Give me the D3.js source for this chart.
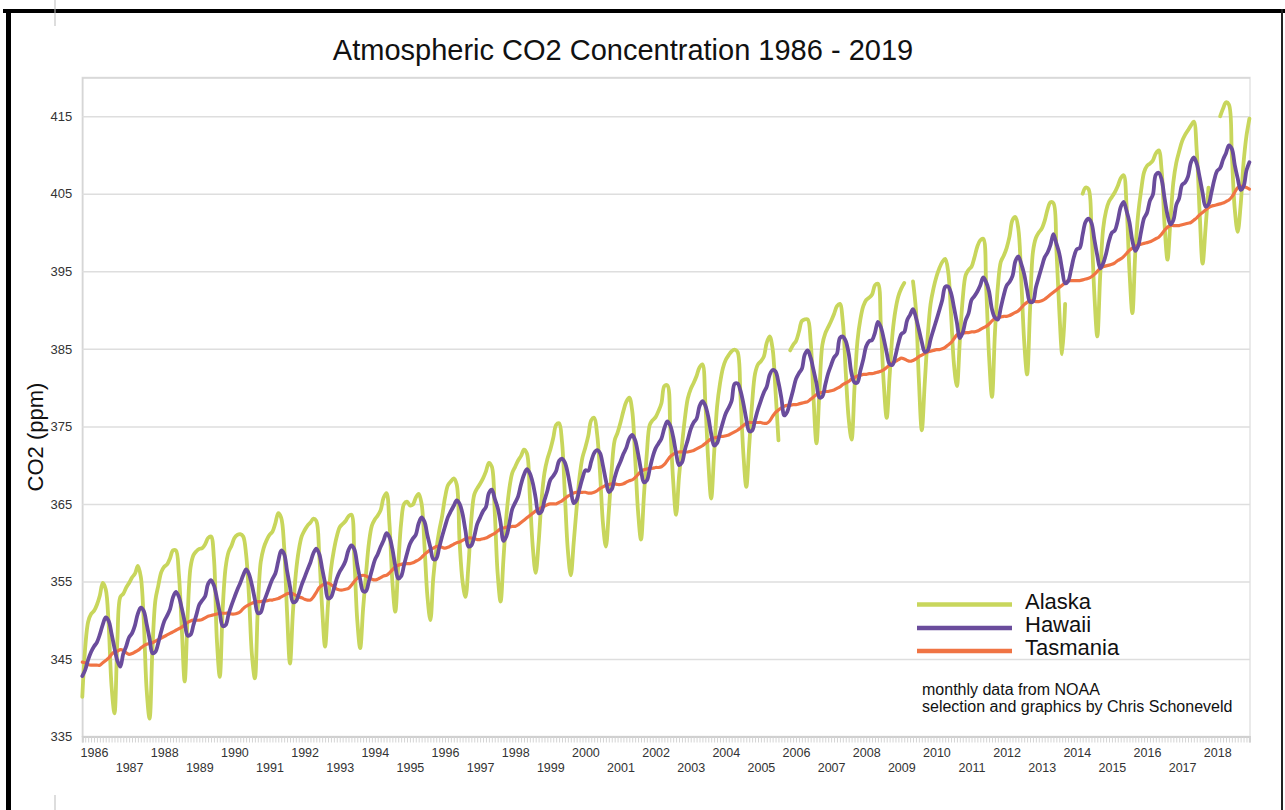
<!DOCTYPE html>
<html>
<head>
<meta charset="utf-8">
<script src="https://cdn.jsdelivr.net/npm/d3@7"></script>
<style>
  body { margin: 0; background: #fff; }
  svg { display: block; font-family: "Liberation Sans", Arial, sans-serif; }
</style>
</head>
<body>
<svg id="chart" width="1285" height="810"></svg>
<script>
// Monthly values, September 1985 (index 0) to December 2018 (index 399). null = missing month.
const firstMonthLabel = "1985-09";

const alaska = [
  340.1, 346.5, 349.8, 350.8,
  351.2, 352.0, 353.2, 354.8, 354.0, 349.5, 341.5, 338.0, 347.5, 353.0, 353.4, 354.2,
  354.8, 355.5, 356.0, 357.0, 355.6, 350.0, 341.0, 337.3, 346.5, 352.6, 354.5, 356.2,
  356.9, 357.2, 358.0, 359.0, 359.0, 356.0, 349.0, 342.1, 350.5, 356.8, 358.4, 358.9,
  359.2, 359.3, 359.8, 360.6, 360.8, 358.0, 347.5, 342.7, 351.5, 356.8, 358.8, 359.6,
  360.6, 361.0, 361.1, 360.8, 358.5, 353.0, 345.5, 342.5, 351.5, 357.5, 359.3, 360.3,
  361.0, 361.4, 362.5, 363.8, 363.2, 359.5, 351.0, 344.4, 351.0, 356.0, 359.0, 360.8,
  361.6, 362.2, 362.6, 363.1, 362.8, 358.5, 351.5, 346.6, 352.0, 356.5, 359.0, 360.8,
  362.0, 362.4, 362.8, 363.4, 363.6, 358.0, 350.0, 346.4, 351.5, 356.0, 360.0, 362.2,
  363.0, 363.5, 364.2, 365.8, 366.4, 362.5, 355.0, 351.1, 357.0, 362.5, 365.0, 365.3,
  364.8, 364.9, 365.8, 366.3, 365.0, 359.5, 353.0, 350.0, 355.5, 359.0, 361.5, 363.4,
  365.8, 367.4, 367.9, 368.3, 367.5, 360.0, 355.0, 353.0, 357.0, 363.0, 366.2, 367.0,
  367.6, 368.3, 369.2, 370.3, 369.8, 364.0, 356.0, 352.4, 358.0, 363.5, 367.0, 369.0,
  369.8, 370.6, 371.2, 372.0, 371.5, 366.0, 359.5, 356.1, 360.0, 365.5, 369.0, 370.8,
  372.0, 373.5, 375.2, 375.4, 373.0, 366.0, 359.0, 355.8, 360.0, 364.5, 368.5, 371.0,
  372.3, 373.8, 375.8, 376.1, 374.0, 369.0, 362.5, 359.5, 364.0, 369.5, 373.2, 374.2,
  375.5, 377.0, 378.2, 378.7, 377.0, 371.0, 364.0, 360.4, 366.0, 371.5, 375.2, 375.8,
  376.2, 377.0, 378.0, 380.2, 380.3, 375.0, 368.0, 363.6, 368.5, 372.5, 376.0, 378.6,
  379.8, 380.6, 381.5, 382.6, 383.0, 378.0, 370.5, 365.7, 371.5, 377.5, 380.5, 382.5,
  383.6, 384.2, 384.7, 384.9, 384.6, 379.0, 371.5, 367.2, 372.5, 378.0, 381.8, 383.0,
  383.4, 384.0, 385.8, 386.6, 385.0, 379.5, 373.2, null, null, null, 384.8, 385.5,
  386.0, 387.2, 388.6, 388.8, 388.8, 386.0, 378.5, 372.8, 379.5, 385.5, 387.0, 387.8,
  388.6, 389.5, 390.5, 390.8, 388.5, 382.0, 376.0, 373.3, 380.0, 386.0, 388.8, 390.5,
  391.3, 391.6, 392.0, 393.2, 393.4, 388.0, 380.5, 376.1, 381.5, 387.0, 390.0, 391.8,
  392.8, 393.5, null, null, 393.7, 390.0, 381.0, 374.5, 380.5, 386.5, 390.8, 392.8,
  394.3, 395.4, 396.2, 396.6, 395.0, 389.5, 383.0, 380.2, 386.0, 391.5, 394.5, 395.2,
  395.6, 396.8, 398.2, 399.0, 399.2, 393.0, 384.0, 378.8, 387.0, 393.0, 396.2, 397.0,
  398.0, 399.5, 401.6, 402.0, 400.5, 394.0, 386.0, 381.7, 390.0, 397.5, 399.3, 400.0,
  400.5, 401.5, 403.0, 403.9, 403.8, 398.0, 390.0, 384.3, 390.8, null, null, null,
  null, null, 405.0, 405.8, 405.6, 400.5, 392.0, 386.6, 394.5, 400.5, 402.8, 404.0,
  404.6, 405.2, 406.0, 407.0, 407.4, 403.5, 395.0, 389.6, 397.5, 402.5, 405.5, 407.8,
  408.6, 408.9, 409.3, 410.2, 410.6, 408.0, 401.0, 396.5, 401.5, 406.5, 409.0, 410.5,
  411.8, 412.6, 413.2, 413.8, 414.3, 410.5, 402.5, 396.0, 400.5, 405.8, null, null,
  null, 415.0, 416.0, 416.8, 416.5, 410.0, 403.0, 400.1, 403.5, 409.0, 412.5, 414.7
];

const hawaii = [
  342.8, 343.6, 344.9, 345.9,
  346.60, 347.15, 348.16, 349.44, 350.35, 349.92, 348.26, 346.40, 344.77, 344.00, 345.67, 346.63,
  347.80, 348.32, 349.34, 350.86, 351.62, 351.20, 349.49, 347.60, 345.73, 345.92, 347.11, 348.57,
  349.85, 350.59, 351.44, 352.95, 353.66, 353.04, 351.56, 349.80, 348.01, 348.13, 349.39, 350.69,
  352.01, 352.55, 353.09, 354.68, 355.17, 354.49, 352.85, 350.98, 349.24, 349.38, 350.76, 351.91,
  352.95, 353.94, 354.81, 355.79, 356.55, 355.94, 354.51, 352.66, 350.92, 351.02, 352.29, 353.30,
  354.35, 355.31, 356.02, 357.64, 358.99, 358.54, 356.37, 354.33, 352.33, 352.43, 353.37, 354.56,
  355.53, 356.52, 357.47, 358.63, 359.24, 358.56, 356.67, 354.75, 352.82, 352.96, 354.05, 355.37,
  356.28, 356.87, 357.67, 359.04, 359.64, 359.15, 357.17, 355.26, 353.73, 353.77, 355.06, 356.43,
  357.75, 358.52, 359.46, 360.29, 361.22, 360.71, 359.19, 357.01, 355.38, 355.68, 357.13, 358.57,
  359.82, 360.52, 361.00, 362.51, 363.26, 362.69, 360.92, 359.39, 357.87, 357.93, 359.33, 360.79,
  362.09, 363.29, 364.06, 364.76, 365.45, 365.01, 363.70, 361.54, 359.51, 359.65, 360.80, 362.38,
  363.23, 364.06, 364.61, 366.40, 366.84, 365.68, 364.52, 362.57, 360.24, 360.83, 362.49, 364.34,
  365.16, 365.97, 367.53, 368.75, 369.49, 368.94, 367.71, 365.76, 363.79, 364.02, 365.46, 366.71,
  368.11, 368.60, 369.26, 370.56, 370.85, 370.32, 368.88, 366.87, 365.10, 365.50, 366.95, 368.32,
  369.34, 369.29, 370.48, 371.58, 371.95, 371.55, 369.95, 368.02, 366.54, 366.88, 368.37, 369.60,
  370.47, 371.46, 372.26, 373.43, 373.90, 373.21, 371.49, 369.40, 367.78, 368.02, 369.52, 371.06,
  372.16, 372.80, 373.45, 374.79, 375.65, 375.11, 373.66, 371.57, 370.00, 370.33, 371.96, 373.26,
  374.66, 375.51, 375.99, 377.59, 378.27, 377.67, 376.24, 374.04, 372.54, 372.84, 374.16, 375.52,
  376.70, 377.42, 378.31, 380.48, 380.54, 379.62, 377.97, 375.95, 374.39, 374.45, 375.86, 377.21,
  378.33, 379.38, 380.14, 381.66, 382.27, 382.08, 380.66, 378.66, 376.41, 376.88, 378.24, 379.66,
  381.12, 381.86, 382.42, 384.27, 384.79, 383.86, 382.25, 380.55, 378.72, 378.87, 380.37, 381.85,
  382.91, 383.89, 384.38, 386.40, 386.58, 386.00, 384.42, 381.79, 380.67, 380.66, 382.19, 383.64,
  385.34, 385.99, 386.12, 387.10, 388.48, 387.80, 386.29, 384.50, 383.02, 382.95, 384.12, 385.71,
  386.90, 387.17, 388.69, 389.39, 390.11, 389.05, 387.50, 385.88, 384.63, 384.80, 386.22, 387.48,
  388.71, 389.98, 391.31, 392.98, 393.02, 392.18, 390.35, 388.39, 386.37, 387.10, 388.69, 389.59,
  391.31, 391.81, 392.40, 393.20, 394.21, 393.61, 392.39, 390.09, 389.03, 388.79, 390.29, 391.87,
  393.15, 393.63, 394.37, 396.30, 396.94, 395.97, 394.63, 392.61, 391.05, 391.10, 392.91, 394.25,
  395.56, 396.80, 397.43, 398.41, 399.78, 398.60, 397.32, 395.20, 393.45, 393.70, 395.16, 396.84,
  397.85, 398.01, 399.77, 401.38, 401.78, 401.25, 399.10, 397.03, 395.38, 396.03, 397.28, 398.91,
  399.98, 400.28, 401.54, 403.28, 403.96, 402.80, 401.31, 398.93, 397.63, 398.29, 400.16, 401.85,
  402.56, 404.12, 404.87, 407.45, 407.72, 406.83, 404.41, 402.27, 401.05, 401.59, 403.55, 404.45,
  406.17, 406.46, 407.22, 409.04, 409.69, 408.88, 407.12, 405.13, 403.37, 403.63, 405.12, 406.81,
  407.96, 408.32, 409.41, 410.24, 411.24, 410.79, 408.71, 406.99, 405.51, 405.95, 408.02, 409.07
];

const tasmania = [
  344.6, 344.5, 344.3, 344.2,
  344.2, 344.2, 344.2, 344.5, 344.8, 345.1, 345.6, 345.9, 346.0, 346.2, 346.1, 345.8,
  345.6, 345.7, 345.9, 346.1, 346.4, 346.7, 346.9, 347.0, 347.1, 347.3, 347.5, 347.7,
  347.9, 348.1, 348.3, 348.5, 348.7, 348.9, 349.1, 349.4, 349.7, 349.9, 350.0, 350.0,
  350.0, 350.1, 350.3, 350.5, 350.6, 350.7, 350.8, 350.9, 350.9, 350.9, 350.9, 350.8,
  350.8, 350.9, 351.1, 351.5, 351.8, 352.0, 352.2, 352.3, 352.4, 352.4, 352.5, 352.5,
  352.6, 352.6, 352.7, 352.8, 353.0, 353.2, 353.4, 353.5, 353.4, 353.2, 353.0, 352.9,
  352.7, 352.6, 352.6, 353.0, 353.6, 354.2, 354.5, 354.7, 354.8, 354.6, 354.3, 354.0,
  353.9, 353.9, 354.0, 354.1, 354.5, 355.0, 355.4, 355.7, 355.8, 355.7, 355.5, 355.3,
  355.2, 355.3, 355.5, 355.7, 355.8, 356.1, 356.5, 356.9, 357.1, 357.2, 357.3, 357.3,
  357.3, 357.4, 357.6, 357.8, 358.1, 358.5, 358.8, 359.1, 359.3, 359.5, 359.5, 359.4,
  359.3, 359.4, 359.6, 359.8, 360.0, 360.1, 360.3, 360.5, 360.6, 360.6, 360.5, 360.4,
  360.4, 360.5, 360.6, 360.8, 361.0, 361.2, 361.5, 361.8, 361.9, 362.0, 362.0, 362.1,
  362.1, 362.3, 362.6, 362.9, 363.2, 363.5, 363.8, 364.1, 364.3, 364.5, 364.7, 364.9,
  365.0, 365.0, 365.0, 365.2, 365.4, 365.7, 366.0, 366.2, 366.4, 366.5, 366.5, 366.5,
  366.5, 366.4, 366.4, 366.5, 366.7, 367.0, 367.2, 367.4, 367.5, 367.6, 367.6, 367.5,
  367.5, 367.6, 367.8, 368.0, 368.1, 368.4, 368.8, 369.2, 369.4, 369.5, 369.6, 369.6,
  369.7, 369.7, 369.8, 370.1, 370.6, 371.1, 371.4, 371.6, 371.7, 371.7, 371.7, 371.7,
  371.8, 371.9, 372.1, 372.3, 372.5, 372.8, 373.1, 373.4, 373.5, 373.6, 373.7, 373.7,
  373.8, 373.9, 374.1, 374.3, 374.5, 374.8, 375.1, 375.4, 375.5, 375.5, 375.5, 375.5,
  375.5, 375.4, 375.4, 375.7, 376.3, 376.8, 377.1, 377.4, 377.6, 377.7, 377.7, 377.8,
  377.8, 377.9, 378.0, 378.1, 378.2, 378.5, 378.8, 379.1, 379.3, 379.4, 379.5, 379.5,
  379.6, 379.7, 379.9, 380.1, 380.4, 380.6, 380.8, 381.1, 381.3, 381.5, 381.6, 381.7,
  381.7, 381.8, 381.8, 381.9, 382.0, 382.1, 382.3, 382.6, 382.9, 383.2, 383.4, 383.6,
  383.8, 383.7, 383.5, 383.4, 383.5, 383.7, 384.0, 384.2, 384.4, 384.6, 384.7, 384.8,
  384.9, 384.9, 385.0, 385.2, 385.5, 385.8, 386.3, 386.8, 386.9, 387.0, 387.1, 387.1,
  387.2, 387.2, 387.3, 387.5, 387.7, 387.9, 388.2, 388.6, 388.9, 389.0, 389.1, 389.2,
  389.2, 389.3, 389.5, 389.7, 389.9, 390.3, 390.7, 391.0, 391.2, 391.2, 391.1, 391.1,
  391.2, 391.4, 391.7, 392.0, 392.3, 392.6, 392.9, 393.2, 393.5, 393.8, 393.8, 393.8,
  393.8, 393.8, 393.9, 394.0, 394.1, 394.3, 394.6, 395.0, 395.4, 395.6, 395.7, 395.8,
  395.9, 396.1, 396.4, 396.6, 396.9, 397.3, 397.7, 398.0, 398.2, 398.4, 398.5, 398.6,
  398.7, 398.8, 399.0, 399.2, 399.4, 399.8, 400.3, 400.7, 400.9, 400.9, 400.9, 400.9,
  401.0, 401.1, 401.2, 401.3, 401.6, 401.9, 402.3, 402.6, 402.9, 403.2, 403.4, 403.5,
  403.6, 403.7, 403.8, 404.0, 404.2, 404.6, 405.2, 405.8, 406.0, 405.9, 405.8, 405.6
];

const yTicks = [335, 345, 355, 365, 375, 385, 395, 405, 415];
const yearLabels = [1986, 1987, 1988, 1989, 1990, 1991, 1992, 1993, 1994, 1995, 1996,
  1997, 1998, 1999, 2000, 2001, 2002, 2003, 2004, 2005, 2006, 2007, 2008, 2009, 2010,
  2011, 2012, 2013, 2014, 2015, 2016, 2017, 2018];
const seriesNames = ["Alaska", "Hawaii", "Tasmania"];
const seriesColors = ["#c8d65c", "#6a4c9c", "#f07444"];

const svg = d3.select("#chart");
const L = 82.3, R = 1250, T = 77.5, B = 736.5;
const x = d3.scaleLinear().domain([0, alaska.length - 1]).range([L, 1249.4]);
const y = d3.scaleLinear().domain([335, 420]).range([B, T]);

// frame of the screenshot
svg.append("rect").attr("x", 0).attr("y", 0).attr("width", 1285).attr("height", 810).attr("fill", "#fff");
svg.append("rect").attr("x", 3).attr("y", 9).attr("width", 1282).attr("height", 4).attr("fill", "#000");
svg.append("rect").attr("x", 6).attr("y", 9).attr("width", 5).attr("height", 801).attr("fill", "#000");
svg.append("rect").attr("x", 1281).attr("y", 9).attr("width", 2).attr("height", 801).attr("fill", "#222");
svg.append("line").attr("x1", 55).attr("x2", 55).attr("y1", 0).attr("y2", 26).attr("stroke", "#bbb").attr("stroke-width", 1);
svg.append("line").attr("x1", 55).attr("x2", 55).attr("y1", 795).attr("y2", 810).attr("stroke", "#bbb").attr("stroke-width", 1);

// plot border
svg.append("rect").attr("x", L).attr("y", T).attr("width", R - L).attr("height", B - T)
  .attr("fill", "none").attr("stroke", "#e3e3e3").attr("stroke-width", 1.5);

// gridlines + y labels
const yAxis = d3.axisLeft(y).tickValues(yTicks).tickSize(-(R - L)).tickPadding(10).tickFormat(d3.format("d"));
const gy = svg.append("g").attr("transform", `translate(${L},0)`).call(yAxis);
gy.select(".domain").attr("stroke", "#d6d6d6").attr("stroke-width", 1.5);
gy.selectAll(".tick line").attr("stroke", "#dedede").attr("stroke-width", 1.5);
gy.selectAll(".tick text").attr("fill", "#333").style("font-size", "13px");

// x axis: monthly minor ticks
const monthIdx = d3.range(alaska.length);
const gxm = svg.append("g").attr("transform", `translate(0,${B})`)
  .call(d3.axisBottom(x).tickValues(monthIdx).tickSize(6).tickFormat(""));
gxm.select(".domain").attr("stroke", "#cfcfcf").attr("stroke-width", 2);
gxm.selectAll(".tick line").attr("stroke", "#d4d4d4").attr("stroke-width", 1);

// x axis: year labels (January of each year), staggered
const janIndex = yr => 4 + 12 * (yr - 1986);
const gx = svg.append("g").attr("transform", `translate(0,${B})`)
  .call(d3.axisBottom(x).tickValues(yearLabels.map(janIndex)).tickSize(0)
    .tickFormat((d, i) => String(yearLabels[i])));
gx.select(".domain").remove();
gx.selectAll(".tick text")
  .attr("fill", "#333").style("font-size", "12.5px")
  .attr("y", (d, i) => (yearLabels[i] % 2 === 0 ? 12 : 27))
  .attr("dy", "0.71em");

// series lines
const line = d3.line()
  .defined(d => d.v !== null)
  .x(d => x(d.i))
  .y(d => y(d.v))
  .curve(d3.curveCatmullRom.alpha(0.5));

const series = [alaska, hawaii, tasmania];
const drawOrder = [0, 2, 1];
drawOrder.forEach(k => {
  const pts = series[k].map((v, i) => ({ i, v }));
  svg.append("path").datum(pts)
    .attr("d", line)
    .attr("fill", "none")
    .attr("stroke", seriesColors[k])
    .attr("stroke-width", k === 2 ? 3.2 : 3.8)
    .attr("stroke-linejoin", "round")
    .attr("stroke-linecap", "round");
});

// title
svg.append("text").attr("x", 623).attr("y", 60).attr("text-anchor", "middle")
  .style("font-size", "29px").attr("fill", "#111")
  .text("Atmospheric CO2 Concentration 1986 - 2019");

// y title
svg.append("text").attr("transform", "translate(43,437) rotate(-90)")
  .attr("text-anchor", "middle").style("font-size", "22px").attr("fill", "#111")
  .text("CO2 (ppm)");

// legend
const legY = [604.5, 628, 651];
seriesNames.forEach((name, k) => {
  svg.append("line").attr("x1", 917).attr("x2", 1012).attr("y1", legY[k]).attr("y2", legY[k])
    .attr("stroke", seriesColors[k]).attr("stroke-width", 4.5);
  svg.append("text").attr("x", 1025).attr("y", legY[k] + 4)
    .style("font-size", "22px").attr("fill", "#111").text(name);
});

// notes
svg.append("text").attr("x", 922).attr("y", 695).style("font-size", "16px").attr("fill", "#111")
  .text("monthly data from NOAA");
svg.append("text").attr("x", 922).attr("y", 712).style("font-size", "16px").attr("fill", "#111")
  .text("selection and graphics by Chris Schoneveld");
</script>
</body>
</html>
